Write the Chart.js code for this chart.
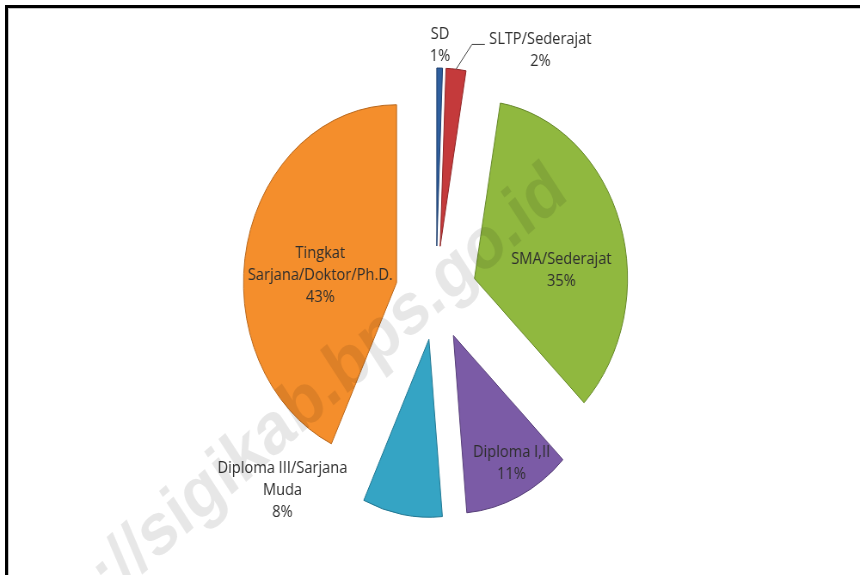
<!DOCTYPE html>
<html>
<head>
<meta charset="utf-8">
<script src="https://cdn.jsdelivr.net/npm/chart.js@4"></script>
<style>
  html, body { margin: 0; padding: 0; background: #fff; overflow: hidden; }
  body { width: 860px; height: 575px; position: relative; }
  #wrap { position: absolute; left: -70px; top: 0; width: 1000px; height: 575px;
          transform: scaleX(0.86); transform-origin: 506px 0; }
  #frame { position: absolute; left: 5px; top: 5px; width: 900px; height: 600px;
           border-top: 3px solid #000; border-left: 3px solid #000;
           box-shadow: inset 1px 1px 0 #c4c4c4; pointer-events: none; }
</style>
</head>
<body>
<div id="wrap"><canvas id="chart"></canvas></div>
<div id="frame"></div>
<script>
// ------------------------------------------------------------
//  Data (percent of population by education level)
// ------------------------------------------------------------
const categories = [
  ['SD'],
  ['SLTP/Sederajat'],
  ['SMA/Sederajat'],
  ['Diploma I,II'],
  ['Diploma III/Sarjana', 'Muda'],
  ['Tingkat', 'Sarjana/Doktor/Ph.D.']
];
const shares = [0.6, 2.1, 34.6, 11.3, 8.4, 43.0];

const sliceColors = ['#2F5F9E', '#C43A3B', '#90B83F', '#7B5BA6', '#35A4C4', '#F48E2C'];
const edgeColors  = ['#1F3F6E', '#8E2526', '#66882A', '#563E78', '#217792', '#B8661A'];

// label placement: angle shift from slice middle (deg), distance as share of radius
const labelShift = [0, 24.8, 13.5, -2.6, 38.3, -7.6];
const labelDist  = [1.13, 1.28, 0.57, 0.81, 1.28, 0.50];
const leaderLine = [false, true, false, false, false, false];

const EXPLODE = 47;
const LINE_H = 22;

// every slice pulled out of the centre by the same distance
const explodePlugin = {
  id: 'explode',
  beforeDatasetDraw(chart, args) {
    const ctx = chart.ctx;
    args.meta.data.forEach(arc => {
      const mid = (arc.startAngle + arc.endAngle) / 2;
      ctx.save();
      ctx.translate(Math.cos(mid) * EXPLODE, Math.sin(mid) * EXPLODE);
      arc.draw(ctx, chart.chartArea);
      ctx.restore();
    });
    return false;
  }
};

const labelPlugin = {
  id: 'sliceLabels',
  afterDatasetsDraw(chart) {
    const ctx = chart.ctx;
    const meta = chart.getDatasetMeta(0);
    const total = shares.reduce((a, b) => a + b, 0);
    ctx.save();
    ctx.font = '17px "Open Sans"';
    ctx.fillStyle = '#2e2e2e';
    ctx.strokeStyle = '#404040';
    ctx.lineWidth = 1;
    ctx.textAlign = 'center';
    ctx.textBaseline = 'middle';
    meta.data.forEach((arc, i) => {
      const mid = (arc.startAngle + arc.endAngle) / 2;
      const vx = arc.x + Math.cos(mid) * EXPLODE, vy = arc.y + Math.sin(mid) * EXPLODE;
      const a = mid + labelShift[i] * Math.PI / 180;
      const d = labelDist[i] * arc.outerRadius;
      const lx = vx + Math.cos(a) * d, ly = vy + Math.sin(a) * d;
      const lines = [...categories[i], Math.round(shares[i] / total * 100) + '%'];
      const top = ly - (lines.length - 1) * LINE_H / 2;
      lines.forEach((t, k) => ctx.fillText(t, lx, top + k * LINE_H));
      if (leaderLine[i]) {
        const w = Math.max(...lines.map(t => ctx.measureText(t).width));
        const left = lx - w / 2;
        const ex = vx + Math.cos(mid) * arc.outerRadius, ey = vy + Math.sin(mid) * arc.outerRadius;
        ctx.beginPath();
        ctx.moveTo(ex, ey);
        ctx.lineTo(left - 20, ly - 6);
        ctx.lineTo(left - 5, ly - 6);
        ctx.stroke();
      }
    });
    ctx.restore();
  }
};

const watermarkPlugin = {
  id: 'watermark',
  afterDraw(chart) {
    const ctx = chart.ctx;
    const text = 'http://sigikab.bps.go.id';
    const fs = 74;
    ctx.save();
    ctx.font = 'bold ' + fs + 'px "Liberation Sans"';
    const pre = ctx.measureText('http://').width + ctx.measureText('s').width / 2;
    ctx.translate(184, 534);
    ctx.rotate(-37 * Math.PI / 180);
    ctx.fillStyle = 'rgba(0,0,0,0.095)';
    ctx.textAlign = 'left';
    ctx.textBaseline = 'alphabetic';
    ctx.fillText(text, -pre, 0.26 * fs);
    ctx.restore();
  }
};

new Chart(document.getElementById('chart'), {
  type: 'pie',
  data: {
    labels: categories,
    datasets: [{
      data: shares,
      backgroundColor: sliceColors,
      borderColor: edgeColors,
      borderWidth: 1,
      radius: 178
    }]
  },
  options: {
    responsive: true,
    maintainAspectRatio: false,
    animation: false,
    layout: { padding: { left: 12, top: 11, right: 0, bottom: 0 } },
    plugins: { legend: { display: false }, tooltip: { enabled: false } }
  },
  plugins: [explodePlugin, labelPlugin, watermarkPlugin]
});
</script>
</body>
</html>
